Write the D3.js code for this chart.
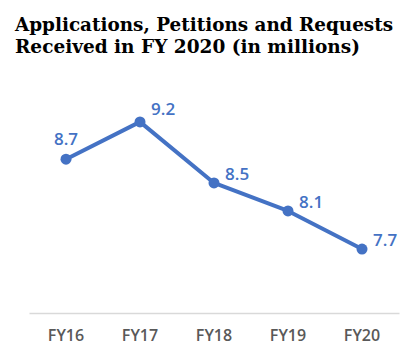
<!DOCTYPE html>
<html>
<head>
<meta charset="utf-8">
<script src="https://cdn.jsdelivr.net/npm/d3@7"></script>
<style>
  html, body { margin: 0; padding: 0; background: #fff; }
  svg { display: block; }
</style>
</head>
<body>
<svg id="chart" width="417" height="359"></svg>
<script>
const categories = ["FY16", "FY17", "FY18", "FY19", "FY20"];
const values = [8.74, 9.18, 8.46, 8.13, 7.68];
const titleLines = ["Applications, Petitions and Requests", "Received in FY 2020 (in millions)"];

const svg = d3.select("#chart");
const blue = "#4472C4";

// Title
const title = svg.append("g");
const titleWidths = [378, 345];
titleLines.forEach((t, i) => {
  title.append("text")
    .attr("x", 15)
    .attr("y", 31 + i * 22)
    .attr("font-family", "'DejaVu Serif', 'Liberation Serif', serif")
    .attr("font-weight", "bold")
    .attr("font-size", 19)
    .attr("fill", "#000")
    .attr("textLength", titleWidths[i])
    .attr("lengthAdjust", "spacingAndGlyphs")
    .text(t);
});

const x = d3.scaleBand().domain(categories).range([29, 399]);
const y = d3.scaleLinear().domain([7, 10]).range([306.7, 52.4]);
const cx = d => x(d) + x.bandwidth() / 2;

// Axis
const axis = d3.axisBottom(x).tickSize(0).tickPadding(17);
const gx = svg.append("g").attr("transform", "translate(0,313)").call(axis);
gx.select(".domain").attr("stroke", "#D9D9D9").attr("stroke-width", 1.5);
gx.selectAll("text")
  .attr("font-family", "'Open Sans', sans-serif")
  .attr("font-weight", 600)
  .attr("font-size", 16)
  .attr("fill", "#595959");

const data = categories.map((c, i) => ({c, v: values[i]}));

const line = d3.line().x(d => cx(d.c)).y(d => y(d.v));
svg.append("path")
  .datum(data)
  .attr("d", line)
  .attr("fill", "none")
  .attr("stroke", blue)
  .attr("stroke-width", 4)
  .attr("stroke-linejoin", "round");

svg.selectAll("circle.pt")
  .data(data)
  .join("circle")
  .attr("class", "pt")
  .attr("cx", d => cx(d.c))
  .attr("cy", d => y(d.v))
  .attr("r", 5.5)
  .attr("fill", blue);

const fmt = d3.format(".1f");
svg.selectAll("text.lbl")
  .data(data)
  .join("text")
  .attr("class", "lbl")
  .attr("x", (d, i) => i === 0 ? cx(d.c) : cx(d.c) + 11)
  .attr("y", (d, i) => i === 0 ? y(d.v) - 14 : y(d.v) - (i === 1 ? 7 : 3))
  .attr("text-anchor", (d, i) => i === 0 ? "middle" : "start")
  .attr("font-family", "'Open Sans', sans-serif")
  .attr("font-weight", 600)
  .attr("font-size", 17)
  .attr("fill", blue)
  .text(d => fmt(d.v));
</script>
</body>
</html>
